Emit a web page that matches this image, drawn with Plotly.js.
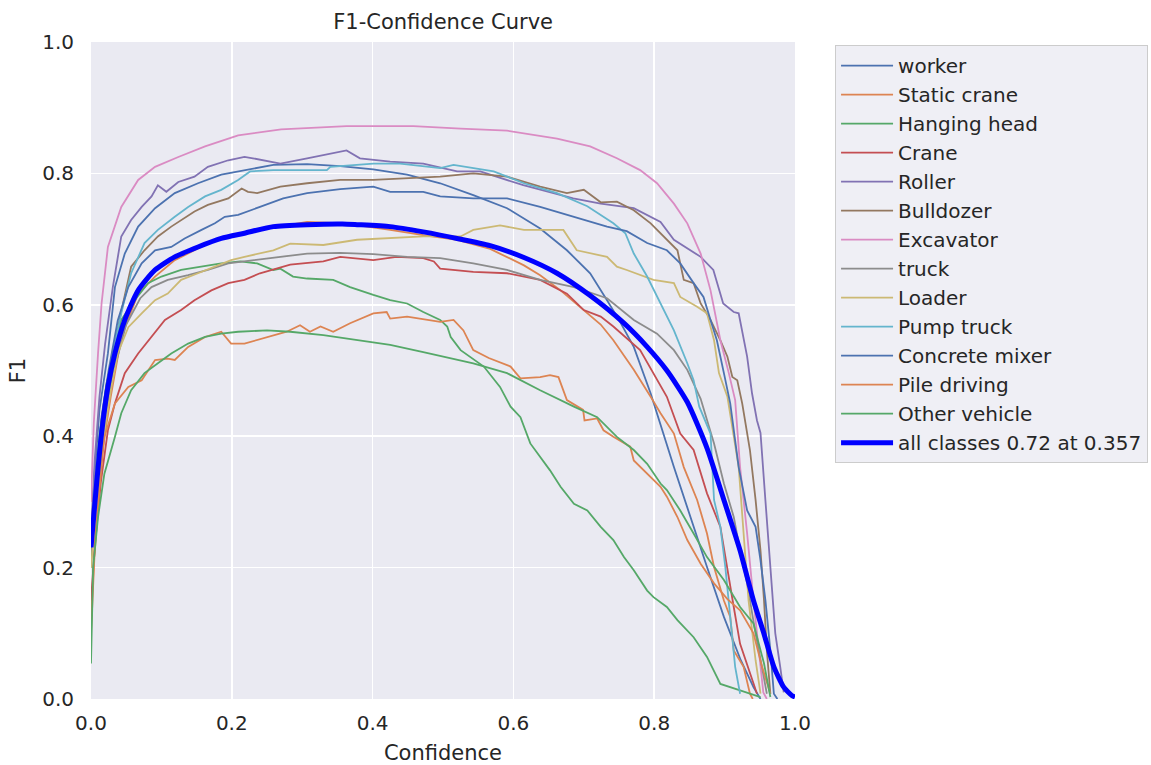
<!DOCTYPE html>
<html>
<head>
<meta charset="utf-8">
<script src="https://cdn.plot.ly/plotly-3.0.1.min.js"></script>
<style>html,body{margin:0;padding:0;background:#fff;}#chart{width:1151px;height:765px;}</style>
</head>
<body>
<div id="chart"></div>
<script>
// ---- data ----
const classNames = ["worker","Static crane","Hanging head","Crane","Roller","Bulldozer","Excavator","truck","Loader","Pump truck","Concrete mixer","Pile driving","Other vehicle"];
const meanLabel = "all classes 0.72 at 0.357";

const workerX = [0,0.005,0.012,0.024,0.034,0.048,0.067,0.091,0.119,0.152,0.185,0.218,0.259,0.307,0.354,0.401,0.449,0.496,0.543,0.591,0.638,0.676,0.709,0.733,0.75,0.771,0.795,0.828,0.851,0.875,0.899,0.923,0.941,0.951];
const workerY = [0.24,0.34,0.44,0.526,0.627,0.678,0.719,0.747,0.77,0.785,0.798,0.805,0.813,0.814,0.811,0.806,0.798,0.785,0.767,0.747,0.716,0.683,0.648,0.607,0.577,0.536,0.465,0.353,0.277,0.201,0.125,0.059,0.018,0.0];

const staticCraneX = [0,0.006,0.015,0.028,0.043,0.067,0.091,0.119,0.147,0.176,0.204,0.25,0.307,0.36,0.425,0.472,0.52,0.567,0.615,0.638,0.667,0.695,0.724,0.742,0.761,0.771,0.795,0.809,0.828,0.842,0.861,0.875,0.885,0.899,0.908,0.913,0.927,0.936,0.94];
const staticCraneY = [0.12,0.25,0.37,0.46,0.551,0.617,0.643,0.668,0.683,0.699,0.706,0.716,0.726,0.724,0.714,0.706,0.699,0.685,0.66,0.645,0.622,0.597,0.57,0.546,0.516,0.501,0.46,0.435,0.404,0.353,0.303,0.252,0.201,0.15,0.125,0.074,0.049,0.008,0.0];

const hangingHeadX = [0,0.005,0.012,0.022,0.043,0.062,0.081,0.1,0.128,0.157,0.185,0.212,0.236,0.259,0.269,0.287,0.307,0.344,0.368,0.401,0.425,0.449,0.472,0.496,0.506,0.511,0.525,0.558,0.581,0.596,0.61,0.624,0.638,0.652,0.667,0.686,0.705,0.724,0.742,0.757,0.771,0.79,0.799,0.818,0.833,0.856,0.875,0.894,0.922,0.951];
const hangingHeadY = [0.2,0.3,0.4,0.48,0.577,0.607,0.633,0.643,0.653,0.658,0.663,0.666,0.663,0.653,0.655,0.643,0.64,0.638,0.627,0.615,0.607,0.602,0.589,0.577,0.567,0.551,0.531,0.506,0.475,0.445,0.429,0.389,0.368,0.348,0.323,0.297,0.287,0.262,0.242,0.216,0.196,0.165,0.155,0.14,0.12,0.094,0.064,0.023,0.013,0.003];

const craneX = [0,0.006,0.014,0.024,0.034,0.048,0.067,0.086,0.105,0.128,0.147,0.171,0.195,0.218,0.24,0.283,0.33,0.354,0.401,0.434,0.472,0.487,0.496,0.543,0.591,0.638,0.676,0.7,0.724,0.742,0.78,0.818,0.837,0.856,0.875,0.894,0.904,0.913,0.922,0.936,0.946];
const craneY = [0.15,0.24,0.33,0.409,0.45,0.496,0.526,0.551,0.577,0.592,0.607,0.622,0.633,0.638,0.648,0.661,0.666,0.673,0.668,0.673,0.671,0.666,0.655,0.65,0.648,0.638,0.617,0.592,0.582,0.567,0.531,0.46,0.404,0.379,0.313,0.262,0.201,0.14,0.084,0.038,0.008];

const rollerX = [0,0.005,0.012,0.02,0.031,0.043,0.057,0.072,0.086,0.095,0.107,0.124,0.147,0.166,0.195,0.218,0.23,0.269,0.307,0.363,0.382,0.425,0.472,0.52,0.553,0.614,0.685,0.724,0.771,0.809,0.828,0.866,0.884,0.898,0.913,0.92,0.932,0.939,0.946,0.951,0.958,0.965,0.972,0.979,0.984];
const rollerY = [0.25,0.36,0.46,0.54,0.627,0.704,0.729,0.749,0.765,0.782,0.772,0.787,0.795,0.81,0.82,0.825,0.823,0.815,0.823,0.835,0.823,0.818,0.815,0.803,0.803,0.782,0.762,0.754,0.747,0.726,0.699,0.673,0.653,0.602,0.589,0.587,0.521,0.465,0.424,0.405,0.302,0.201,0.1,0.049,0.01];

const bulldozerX = [0,0.006,0.015,0.028,0.042,0.057,0.076,0.095,0.114,0.128,0.147,0.166,0.195,0.214,0.223,0.236,0.269,0.307,0.354,0.401,0.449,0.496,0.543,0.591,0.638,0.676,0.7,0.724,0.747,0.771,0.795,0.818,0.833,0.842,0.856,0.866,0.88,0.894,0.904,0.911,0.918,0.925,0.936,0.944,0.951,0.956,0.96,0.965];
const bulldozerY = [0.22,0.32,0.41,0.5,0.585,0.658,0.683,0.704,0.719,0.729,0.742,0.752,0.762,0.777,0.772,0.77,0.78,0.785,0.79,0.79,0.793,0.795,0.8,0.795,0.78,0.77,0.775,0.756,0.757,0.744,0.724,0.699,0.683,0.638,0.633,0.602,0.577,0.546,0.521,0.49,0.485,0.45,0.379,0.303,0.226,0.15,0.074,0.008];

const excavatorX = [0,0.004,0.01,0.015,0.024,0.043,0.067,0.091,0.124,0.162,0.209,0.27,0.363,0.458,0.525,0.591,0.662,0.709,0.747,0.78,0.804,0.828,0.847,0.866,0.88,0.894,0.906,0.915,0.922,0.932,0.941,0.949,0.955,0.96];
const excavatorY = [0.3,0.42,0.526,0.602,0.688,0.749,0.79,0.81,0.825,0.841,0.858,0.867,0.872,0.872,0.868,0.865,0.853,0.841,0.823,0.805,0.785,0.754,0.724,0.678,0.622,0.546,0.496,0.455,0.353,0.252,0.15,0.074,0.01,0.0];

const truckX = [0,0.006,0.015,0.03,0.05,0.07,0.086,0.109,0.138,0.166,0.195,0.218,0.259,0.307,0.354,0.401,0.449,0.496,0.543,0.591,0.638,0.686,0.733,0.771,0.804,0.828,0.847,0.866,0.885,0.899,0.913,0.922,0.932,0.944,0.953,0.96];
const truckY = [0.22,0.32,0.4,0.49,0.57,0.61,0.627,0.638,0.645,0.653,0.663,0.666,0.671,0.678,0.679,0.677,0.673,0.671,0.663,0.653,0.638,0.627,0.61,0.577,0.556,0.531,0.501,0.457,0.389,0.328,0.277,0.226,0.176,0.099,0.049,0.008];

const loaderX = [0,0.008,0.018,0.029,0.038,0.053,0.072,0.091,0.109,0.128,0.152,0.176,0.199,0.218,0.259,0.283,0.33,0.378,0.425,0.472,0.525,0.543,0.581,0.615,0.671,0.69,0.733,0.747,0.761,0.799,0.828,0.837,0.861,0.875,0.885,0.892,0.904,0.92,0.927,0.934,0.944,0.951];
const loaderY = [0.2,0.3,0.4,0.475,0.526,0.566,0.587,0.607,0.617,0.638,0.648,0.658,0.668,0.673,0.683,0.693,0.691,0.699,0.701,0.704,0.704,0.714,0.721,0.714,0.714,0.683,0.673,0.658,0.653,0.638,0.633,0.612,0.597,0.587,0.546,0.496,0.46,0.353,0.252,0.15,0.059,0.008];

const pumpTruckX = [0,0.006,0.015,0.028,0.043,0.057,0.076,0.095,0.119,0.138,0.162,0.185,0.209,0.226,0.259,0.335,0.34,0.401,0.439,0.496,0.515,0.543,0.572,0.615,0.662,0.705,0.742,0.759,0.771,0.79,0.809,0.828,0.847,0.856,0.864,0.88,0.885,0.894,0.901,0.908,0.915,0.922];
const pumpTruckY = [0.23,0.33,0.42,0.51,0.587,0.648,0.694,0.714,0.734,0.749,0.765,0.775,0.79,0.803,0.805,0.805,0.81,0.815,0.815,0.808,0.813,0.808,0.803,0.785,0.77,0.75,0.724,0.709,0.678,0.643,0.602,0.561,0.511,0.485,0.445,0.404,0.303,0.262,0.201,0.125,0.049,0.008];

const concreteMixerX = [0,0.006,0.015,0.025,0.038,0.053,0.072,0.091,0.114,0.133,0.157,0.176,0.19,0.209,0.24,0.273,0.307,0.354,0.401,0.425,0.472,0.496,0.543,0.591,0.638,0.686,0.733,0.761,0.79,0.818,0.837,0.856,0.87,0.88,0.889,0.899,0.908,0.92,0.932,0.944,0.951,0.958,0.965,0.97,0.975];
const concreteMixerY = [0.23,0.33,0.43,0.5,0.576,0.627,0.663,0.683,0.688,0.701,0.714,0.724,0.734,0.737,0.749,0.762,0.77,0.776,0.78,0.772,0.772,0.765,0.762,0.762,0.749,0.734,0.719,0.712,0.694,0.683,0.663,0.633,0.612,0.577,0.546,0.496,0.45,0.353,0.287,0.262,0.211,0.15,0.074,0.008,0.0];

const pileDrivingX = [0,0.005,0.012,0.019,0.034,0.053,0.072,0.091,0.109,0.119,0.138,0.162,0.185,0.199,0.218,0.25,0.278,0.297,0.311,0.326,0.344,0.368,0.401,0.42,0.425,0.449,0.496,0.515,0.529,0.543,0.565,0.596,0.61,0.638,0.652,0.664,0.676,0.699,0.701,0.719,0.728,0.742,0.766,0.771,0.79,0.809,0.818,0.833,0.847,0.856,0.866,0.885,0.904,0.922,0.941,0.953,0.965];
const pileDrivingY = [0.1,0.22,0.32,0.399,0.45,0.475,0.485,0.516,0.518,0.516,0.536,0.551,0.559,0.541,0.541,0.551,0.559,0.569,0.559,0.567,0.559,0.572,0.587,0.589,0.579,0.582,0.574,0.577,0.561,0.531,0.519,0.506,0.488,0.49,0.493,0.49,0.455,0.44,0.424,0.427,0.409,0.399,0.384,0.363,0.343,0.323,0.308,0.277,0.242,0.226,0.206,0.176,0.152,0.135,0.1,0.05,0.008];

const otherVehicleX = [0,0.003,0.01,0.019,0.034,0.043,0.057,0.076,0.095,0.114,0.138,0.162,0.185,0.209,0.25,0.283,0.33,0.378,0.425,0.472,0.52,0.543,0.591,0.638,0.686,0.719,0.747,0.771,0.79,0.809,0.818,0.837,0.856,0.875,0.899,0.922,0.941,0.956,0.965];
const otherVehicleY = [0.054,0.2,0.277,0.343,0.399,0.435,0.47,0.496,0.511,0.526,0.541,0.551,0.556,0.559,0.561,0.559,0.554,0.546,0.539,0.528,0.516,0.511,0.496,0.47,0.445,0.429,0.399,0.379,0.358,0.328,0.318,0.287,0.252,0.216,0.181,0.14,0.115,0.054,0.003];

const meanX = [0,0.008,0.015,0.024,0.034,0.048,0.067,0.091,0.119,0.152,0.185,0.218,0.259,0.307,0.357,0.378,0.425,0.472,0.52,0.567,0.615,0.662,0.709,0.757,0.79,0.818,0.847,0.875,0.899,0.922,0.941,0.956,0.97,0.984,0.996,1.0];
const meanY = [0.231,0.328,0.404,0.475,0.526,0.577,0.622,0.653,0.673,0.688,0.701,0.709,0.719,0.722,0.723,0.722,0.719,0.711,0.701,0.69,0.672,0.648,0.614,0.572,0.536,0.5,0.452,0.382,0.303,0.226,0.15,0.099,0.049,0.018,0.005,0.003];

const tickVals = [0,0.2,0.4,0.6,0.8,1.0];
const tickText = ["0.0","0.2","0.4","0.6","0.8","1.0"];

// ---- styling ----
const palette = ["#4C72B0","#DD8452","#55A868","#C44E52","#8172B3","#937860","#DA8BC3","#8C8C8C","#CCB974","#64B5CD","#4C72B0","#DD8452","#55A868"];
const seriesX = [workerX,staticCraneX,hangingHeadX,craneX,rollerX,bulldozerX,excavatorX,truckX,loaderX,pumpTruckX,concreteMixerX,pileDrivingX,otherVehicleX];
const seriesY = [workerY,staticCraneY,hangingHeadY,craneY,rollerY,bulldozerY,excavatorY,truckY,loaderY,pumpTruckY,concreteMixerY,pileDrivingY,otherVehicleY];

const FONT = "DejaVu Sans, Liberation Sans, sans-serif";
const TXT = "#262626";

const traces = classNames.map((n,i)=>({
  type:"scatter", mode:"lines", name:n,
  x: seriesX[i], y: seriesY[i],
  line:{color:palette[i], width:1.8},
  hoverinfo:"skip"
}));
traces.push({
  type:"scatter", mode:"lines", name:meanLabel,
  x: meanX, y: meanY,
  line:{color:"#0000FF", width:5, shape:"spline", smoothing:0.6},
  hoverinfo:"skip"
});

const layout = {
  width:1151, height:765,
  margin:{l:91, r:356, t:42, b:66, pad:0},
  paper_bgcolor:"#FFFFFF",
  plot_bgcolor:"#EAEAF2",
  font:{family:FONT, color:TXT, size:20},
  title:{text:"F1-Confidence Curve", font:{family:FONT, size:21, color:TXT}, x:0.385, xref:"container", xanchor:"center", y:0.972, yref:"container", yanchor:"middle"},
  xaxis:{range:[0,1], tickvals:tickVals, ticktext:tickText, showgrid:true, gridcolor:"#FFFFFF", gridwidth:1.6, zeroline:false, showline:false, ticks:"outside", ticklen:6, tickcolor:"rgba(0,0,0,0)", tickfont:{family:FONT, size:20, color:TXT}, title:{text:"Confidence", font:{family:FONT, size:21, color:TXT}, standoff:11}, automargin:false, fixedrange:true},
  yaxis:{range:[0,1], tickvals:tickVals, ticktext:tickText, showgrid:true, gridcolor:"#FFFFFF", gridwidth:1.6, zeroline:false, showline:false, ticks:"outside", ticklen:12, tickcolor:"rgba(0,0,0,0)", tickfont:{family:FONT, size:20, color:TXT}, title:{text:"F1", font:{family:FONT, size:21, color:TXT}, standoff:10}, automargin:false, fixedrange:true},
  showlegend:true,
  legend:{xref:"container", yref:"container", x:0.7255, xanchor:"left", y:0.941, yanchor:"top", maxheight:600, bgcolor:"#EFEFF5", bordercolor:"#CCCCCC", borderwidth:1, font:{family:FONT, size:20, color:TXT}, itemwidth:52, tracegroupgap:0}
};

Plotly.newPlot("chart", traces, layout, {displayModeBar:false, staticPlot:true});
</script>
</body>
</html>
